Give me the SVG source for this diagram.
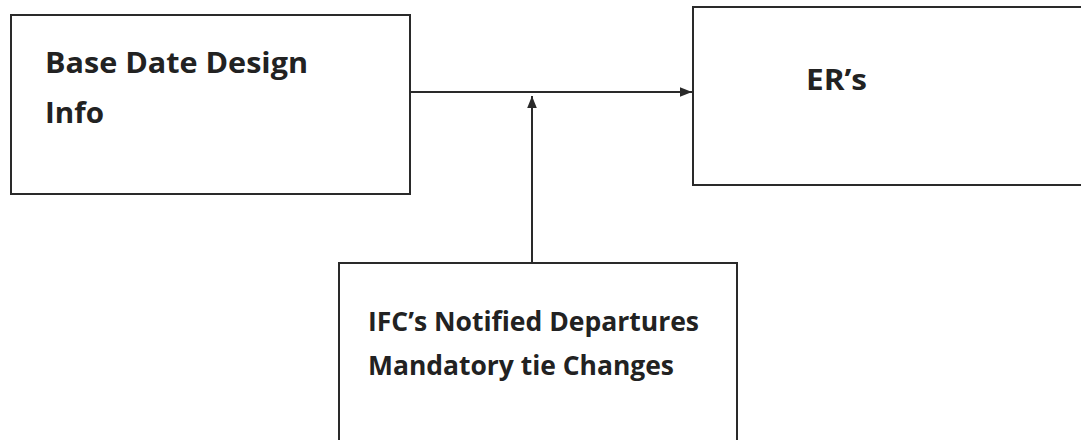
<svg xmlns="http://www.w3.org/2000/svg" width="1081" height="440" viewBox="0 0 1081 440">
  <style>
    .box { fill: #ffffff; stroke: #2a2a2a; stroke-width: 2; }
    .label { font-family: "Open Sans", Lato, "Liberation Sans", sans-serif; font-weight: bold; fill: #222222; }
    .big { font-size: 29px; }
    .small { font-size: 26px; }
    .wire { fill: none; stroke: #2a2a2a; stroke-width: 2; }
  </style>
  <defs>
    <marker id="head" viewBox="0 0 10 10" refX="10" refY="5" markerWidth="6" markerHeight="6" markerUnits="strokeWidth" orient="auto">
      <path d="M0,1 L10,5 L0,9 Z" fill="#2a2a2a"/>
    </marker>
  </defs>
  <rect width="1081" height="440" fill="#ffffff"/>

  <g id="base-date">
    <rect class="box" x="11" y="15" width="399" height="179"/>
    <text class="label big" x="45" y="73" textLength="263" lengthAdjust="spacingAndGlyphs">Base Date Design</text>
    <text class="label big" x="45" y="123" textLength="59" lengthAdjust="spacingAndGlyphs">Info</text>
  </g>

  <g id="ers">
    <rect class="box" x="693" y="7" width="400" height="178"/>
    <text class="label big" x="806" y="90" textLength="61" lengthAdjust="spacingAndGlyphs">ER’s</text>
  </g>

  <g id="ifc">
    <rect class="box" x="339" y="263" width="398" height="190"/>
    <text class="label small" x="368" y="331" textLength="331" lengthAdjust="spacingAndGlyphs">IFC’s Notified Departures</text>
    <text class="label small" x="368" y="375" textLength="306" lengthAdjust="spacingAndGlyphs">Mandatory tie Changes</text>
  </g>

  <g id="connectors">
    <line class="wire" x1="410" y1="92" x2="692" y2="92" marker-end="url(#head)"/>
    <line class="wire" x1="532" y1="263" x2="532" y2="96" marker-end="url(#head)"/>
  </g>
</svg>
